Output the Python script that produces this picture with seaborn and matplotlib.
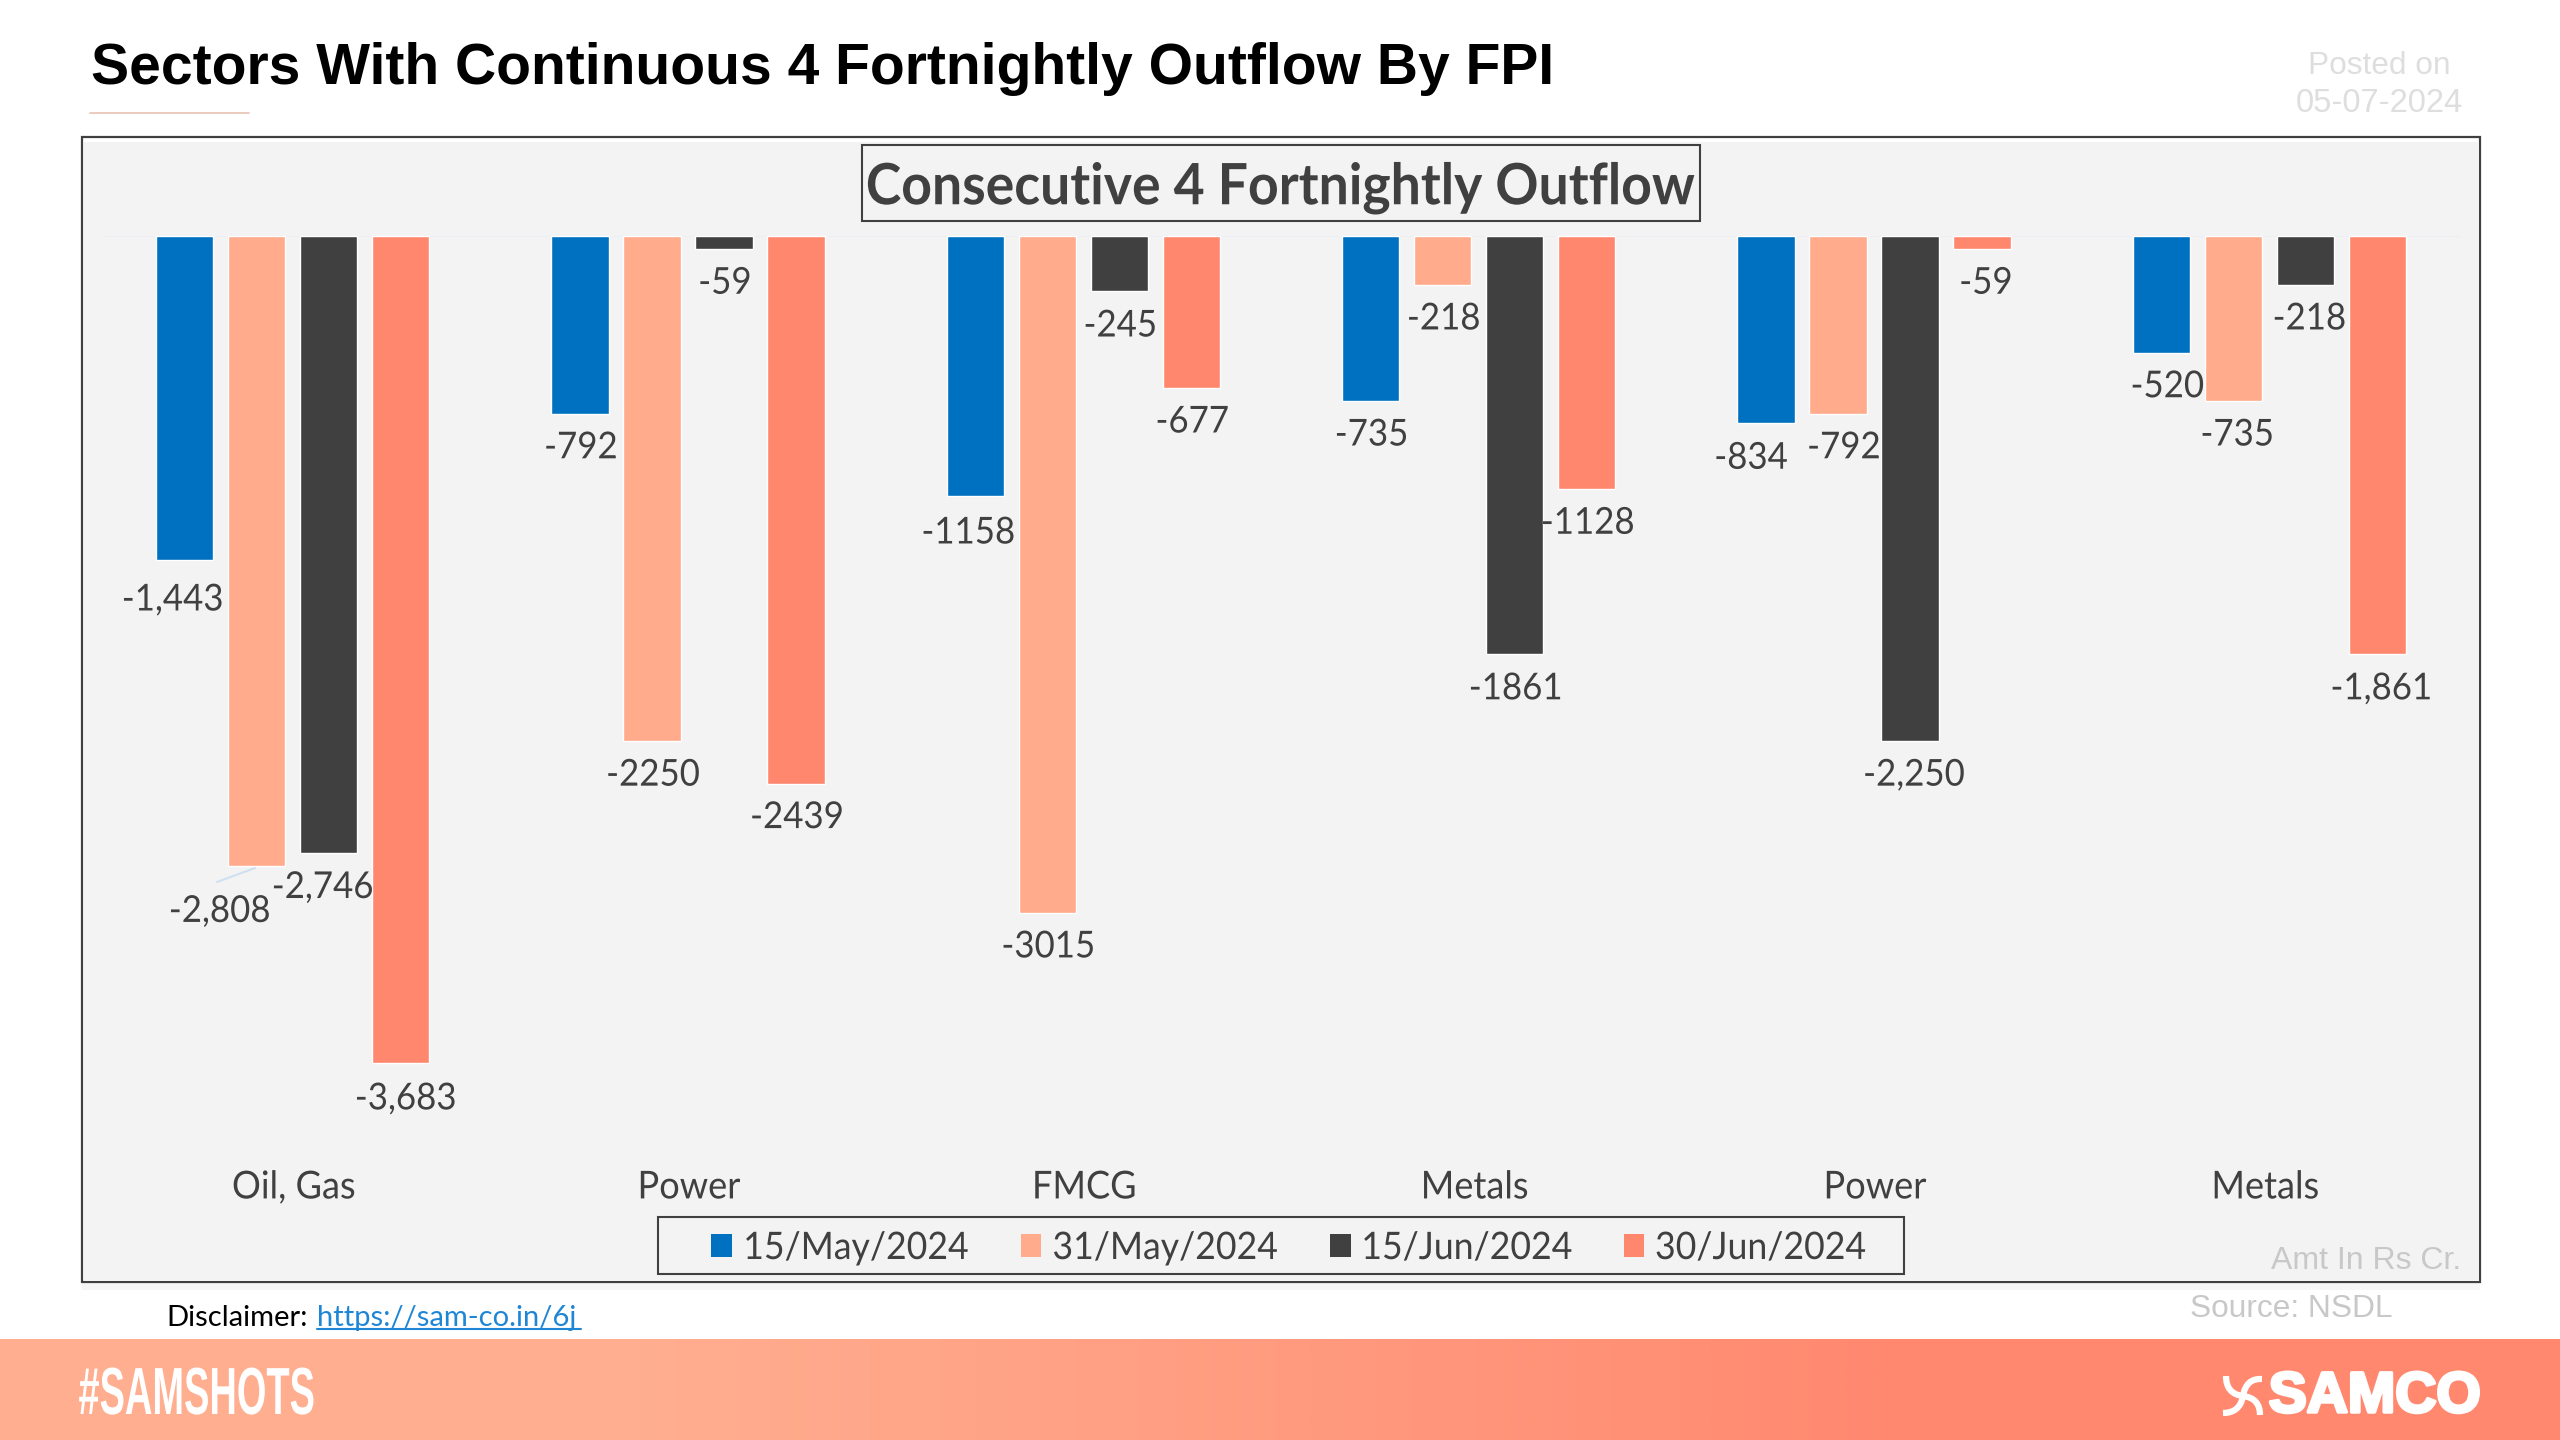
import numpy as np
import pandas as pd
import matplotlib
matplotlib.use("Agg")
import matplotlib.pyplot as plt
from matplotlib.patches import Rectangle, PathPatch
from matplotlib.path import Path
from matplotlib.patheffects import AbstractPathEffect, withStroke
from matplotlib.transforms import Affine2D, ScaledTranslation
import seaborn as sns

# ---- data ----
sectors = ["Oil, Gas", "Power", "FMCG", "Metals", "Power", "Metals"]
dates = ["15/May/2024", "31/May/2024", "15/Jun/2024", "30/Jun/2024"]
may15 = [-1443, -792, -1158, -735, -834, -520]
may31 = [-2808, -2250, -3015, -218, -792, -735]
jun15 = [-2746, -59, -245, -1861, -2250, -218]
jun30 = [-3683, -2439, -677, -1128, -59, -1861]
label_may15 = ["-1,443", "-792", "-1158", "-735", "-834", "-520"]
label_may31 = ["-2,808", "-2250", "-3015", "-218", "-792", "-735"]
label_jun15 = ["-2,746", "-59", "-245", "-1861", "-2,250", "-218"]
label_jun30 = ["-3,683", "-2439", "-677", "-1128", "-59", "-1,861"]

# ---- style ----
W, H = 2560, 1440
colors = ["#0070C0", "#FFAB8C", "#404040", "#FF876E"]
TEXT = "#404040"
PANEL = "#F3F3F4"
CAL = ["Lato", "DejaVu Sans"]
ARIAL = ["Liberation Sans", "DejaVu Sans"]
# label nudges in px (x right, y down from the end of the bar)
nudge_x = [[-13, 0, -8, 0, -16, 5],
           [-38, 0, 0, 0, 5, 3],
           [-7, 0, 0, 0, 3, 3],
           [4, 0, 0, 0, 3, 3]]
nudge_y = [[40, 34, 37, 34, 35, 34],
           [45, 34, 34, 34, 34, 34],
           [35, 34, 35, 35, 34, 34],
           [36, 34, 34, 34, 34, 35]]
tick_nudge = [0, 0, 0, -5, 0, -5]


class Squeeze(AbstractPathEffect):
    """Narrow a text run about its centre, or about its left end."""
    def __init__(self, sx, left=False):
        super().__init__()
        self.sx = sx
        self.left = left

    def draw_path(self, renderer, gc, tpath, affine, rgbFace=None):
        ext = tpath.get_extents()
        c = ext.x0 if self.left else (ext.x0 + ext.x1) / 2
        squeeze = Affine2D().translate(-c, 0).scale(self.sx, 1).translate(c, 0)
        renderer.draw_path(gc, tpath, squeeze + affine, rgbFace)


CALIBRI_LIKE = [Squeeze(0.94)]

sns.set_theme(style="white")
plt.rcParams["font.family"] = CAL
fig = plt.figure(figsize=(W / 100, H / 100), dpi=100, facecolor="white")


def fx(x): return x / W
def fy(y): return 1 - y / H


def rect(x0, y0, x1, y1, zorder=-1, **kw):
    fig.add_artist(Rectangle((fx(x0), fy(y1)), (x1 - x0) / W, (y1 - y0) / H,
                             transform=fig.transFigure, zorder=zorder, **kw))


# shadow, panel
rect(82, 1282, 2480, 1290, facecolor="#F6F6F6", edgecolor="none")
rect(82, 137, 2480, 1282, facecolor="white", edgecolor="#404040", linewidth=1.6)
rect(84, 142, 2479, 1281, facecolor=PANEL, edgecolor="none")

# bars
ax = fig.add_axes([fx(95), fy(1150), (2467 - 95) / W, (1150 - 236) / H], zorder=2)
ax.patch.set_alpha(0)
df = pd.DataFrame({
    "group": list(range(len(sectors))) * 4,
    "date": np.repeat(dates, len(sectors)),
    "value": may15 + may31 + jun15 + jun30,
})
sns.barplot(data=df, x="group", y="value", hue="date", hue_order=dates, palette=colors,
            width=0.7286, gap=0.205, saturation=1, ax=ax, legend=False, errorbar=None)
ax.set_xlim(-0.5, 5.5)
ax.set_ylim(-4071, 0)
ax.set_xlabel("")
ax.set_ylabel("")
ax.set_yticks([])
ax.set_xticks(range(len(sectors)))
ax.set_xticklabels(sectors, fontsize=27.7, color=TEXT, family=CAL)
ax.tick_params(axis="x", length=0, pad=14)
for lab, dx in zip(ax.get_xticklabels(), tick_nudge):
    lab.set_path_effects(CALIBRI_LIKE)
    lab.set_transform(lab.get_transform() + ScaledTranslation((dx + 1) / 100, 0, fig.dpi_scale_trans))
for s in ax.spines.values():
    s.set_visible(False)
ax.axhline(0, color="#ECEFF3", lw=1.5, zorder=0, xmin=0.004, xmax=0.997)

# value labels
px = 72 / 100
all_labels = [label_may15, label_may31, label_jun15, label_jun30]
all_vals = [may15, may31, jun15, jun30]
for k, cont in enumerate(ax.containers):
    for g, bar in enumerate(cont):
        t = ax.annotate(all_labels[k][g],
                        xy=(bar.get_x() + bar.get_width() / 2, all_vals[k][g]),
                        xytext=((nudge_x[k][g] + 1) * px, -nudge_y[k][g] * px),
                        textcoords="offset points", ha="center", va="center",
                        fontsize=26.7, color=TEXT, family=CAL, annotation_clip=False)
        t.set_path_effects(CALIBRI_LIKE)

# leader line of the -2,808 label
fig.add_artist(plt.Line2D([fx(217), fx(255)], [fy(882), fy(868)], color="#CFE0F0", lw=1.5, zorder=3))

# legend
rect(658, 1217, 1904, 1274, facecolor="none", edgecolor=TEXT, linewidth=1.5, zorder=1)
handles = [Rectangle((0, 0), 1, 1, facecolor=c, edgecolor="none") for c in colors]
leg = fig.legend(handles, dates, loc="center", bbox_to_anchor=(fx(1292), fy(1248)), ncol=4,
                 frameon=False, fontsize=27.3, handlelength=0.55, handleheight=0.55,
                 handletextpad=0.1, columnspacing=1.18, borderpad=0.2, labelcolor=TEXT)
for lt in leg.get_texts():
    lt.set_path_effects(CALIBRI_LIKE)

# chart title
title = fig.text(fx(1281), fy(188), "Consecutive 4 Fortnightly Outflow", ha="center", va="center",
                 fontsize=41, fontweight="bold", color=TEXT, family=CAL)
title.set_path_effects(CALIBRI_LIKE)
rect(862, 145, 1700, 221, facecolor="none", edgecolor=TEXT, linewidth=1.5, zorder=1)

# header
fig.text(fx(91), fy(69), "Sectors With Continuous 4 Fortnightly Outflow By FPI", ha="left", va="center",
         fontsize=41, fontweight="bold", color="black", family=ARIAL)
fig.add_artist(plt.Line2D([fx(90), fx(249)], [fy(113), fy(113)], color="#E8C8B8", lw=1.3))
fig.text(fx(2379), fy(66), "Posted on", ha="center", va="center", fontsize=22.8, color="#DEDEDE", family=ARIAL)
fig.text(fx(2379), fy(103), "05-07-2024", ha="center", va="center", fontsize=23.6, color="#DEDEDE", family=ARIAL)

# footnotes
fig.text(fx(2461), fy(1261), "Amt In Rs Cr.", ha="right", va="center", fontsize=23, color="#C8C8C8", family=ARIAL)
fig.text(fx(2393), fy(1309), "Source: NSDL", ha="right", va="center", fontsize=22.8, color="#C8C8C8", family=ARIAL)
fig.text(fx(166), fy(1318), "Disclaimer:", ha="left", va="center", fontsize=21, color="black", family=CAL)
fig.text(fx(317), fy(1318), "https://sam-co.in/6j", ha="left", va="center", fontsize=21, color="#1F86D6", family=CAL)
fig.add_artist(plt.Line2D([fx(317), fx(581)], [fy(1329), fy(1329)], color="#1F86D6", lw=1.5))

# banner
bax = fig.add_axes([0, fy(1440), 1, (1440 - 1339) / H])
bax.imshow(np.array([[0, 1]]), aspect="auto", extent=[0, 1, 0, 1], interpolation="bilinear",
           cmap=matplotlib.colors.LinearSegmentedColormap.from_list("b", ["#FFAE90", "#FF886F"]))
bax.axis("off")

t = fig.text(fx(78), fy(1397), "#SAMSHOTS", ha="left", va="center", fontsize=48, fontweight="bold",
             color="white", family=ARIAL)
t.set_path_effects([Squeeze(0.57, left=True)])
s = fig.text(fx(2481), fy(1397), "SAMCO", ha="right", va="center", fontsize=41, fontweight="bold",
             color="white", family=ARIAL)
s.set_path_effects([withStroke(linewidth=2.5, foreground="white")])
# logo mark
for verts in [[(2226, 1376), (2226, 1394), (2243, 1396), (2260, 1398), (2260, 1415)],
              [(2262, 1379), (2246, 1378), (2243, 1396), (2240, 1413), (2223, 1413)]]:
    fig.add_artist(PathPatch(Path(verts, [Path.MOVETO, Path.CURVE3, Path.CURVE3, Path.CURVE3, Path.CURVE3]),
                             transform=Affine2D().scale(1, -1).translate(0, H),
                             facecolor="none", edgecolor="white", lw=4.5, zorder=4))

fig.savefig("out.png", dpi=100, facecolor="white")
